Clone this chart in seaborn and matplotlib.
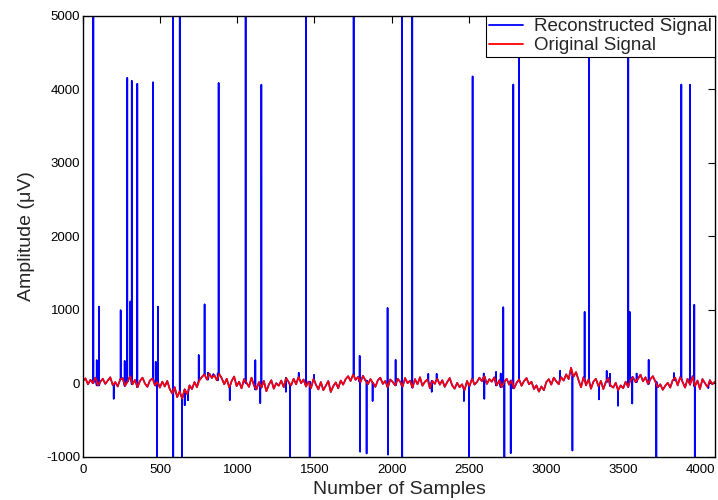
"""
Reconstructed vs original signal: one noisy trace with sparse spike errors
from the reconstruction drawn under the original.
"""

import numpy as np
import pandas as pd
import matplotlib
matplotlib.use("Agg")
import matplotlib.pyplot as plt
import seaborn as sns

sns.set_theme(style="white")
plt.rcParams["font.family"] = ["Liberation Sans", "DejaVu Sans"]
plt.rcParams["axes.unicode_minus"] = False

# original signal, every ~16 samples (uV)
N_SAMPLES = 4096
ORIGINAL = [
    30, 65, -15, 45, 0, 75, -30, 20, 60, -10, 35, 80, -25, 15, -45, 50,
    70, -35, 20, 95, -15, 45, -55, 30, 75, -5, -50, 35, 65, -30, 15, -60,
    20, -45, 30, -80, -140, -55, -190, -110, -210, -85, -150, -30, -80, 15, -55, 40,
    85, 120, 50, 130, 70, 110, 40, 125, 65, -15, 60, -55, 30, 90, -40, 20,
    -70, 55, 5, -50, 75, -30, -85, 15, -60, 30, -110, -20, 40, -75, 0, -35,
    35, -55, 70, 15, -30, 60, -15, 85, 0, 50, -45, 20, -70, 55, -20, -85,
    15, -95, -35, 30, -120, -40, 10, -70, 35, -20, 55, 95, 30, 115, 45, 85,
    15, 100, 35, -15, 55, 5, -50, 40, 75, -10, 30, -55, 50, 15, -30, 60,
    20, -45, 70, 0, 35, -60, 55, -15, 80, -35, 20, 50, -70, 30, -10, 60,
    -20, 40, -50, 15, 70, -30, -75, 5, -55, -15, -95, 30, -40, 60, -20, 15,
    75, 25, 95, -10, 55, 20, 80, -30, 40, -55, 15, 60, -20, 35, -70, 5,
    50, -35, 30, 70, -15, 20, -80, -30, -115, -45, -95, 15, 55, -20, 75, 25,
    -15, 80, 35, 120, 55, 210, 90, 150, 40, -55, 80, -30, 50, -75, 20, 60,
    -40, 30, -80, 15, 70, -35, -60, 5, -95, -30, -70, 20, -50, 40, 80, 15,
    60, 115, 25, 80, -10, 55, 95, 20, -55, -15, -90, -35, 5, -60, 40, 75,
    -30, 80, 15, -60, 60, -20, 95, -40, 35, -80, 55, 0, -50, 40, -15, 20,
]

# single-sample errors in the reconstruction: sample index and amplitude (uV)
SPIKE_AT = [
    67, 89, 104, 199, 244, 270, 287, 307, 316, 352, 454, 471, 480, 486,
    583, 585, 627, 642, 659, 680, 750, 788, 810, 845, 873, 879, 951,
    1054, 1117, 1149, 1156, 1315, 1341, 1398, 1445, 1469, 1497,
    1754, 1793, 1796, 1838, 1877, 1974, 1977, 2026, 2067, 2069, 2134,
    2238, 2260, 2292, 2469, 2502, 2525, 2597, 2601, 2677, 2707, 2724, 2731,
    2772, 2789, 2826, 3092, 3172, 3251, 3279, 3344, 3394, 3415, 3467,
    3534, 3543, 3560, 3588, 3666, 3716, 3830, 3878, 3934, 3962, 3965, 4053,
]
SPIKE_VAL = [
    5600, 310, 1040, -210, 990, 300, 4150, 1110, 4110, 4070, 4090, 290, -1300, 1040,
    5600, -1300, 5600, -1300, -300, -230, 380, 1070, 140, 120, 130, 4080, -230,
    5600, 310, -270, 4060, -115, -1300, 140, 5600, -1300, 110,
    5600, 370, -930, -955, -240, 1020, -970, 315, 5600, -1300, 5600,
    125, -115, 125, -240, -1300, 4170, 130, -215, 150, 130, 1030, -1300,
    -950, 4060, 5600, 165, -915, 968, 5600, -220, 165, 125, -305,
    5600, 968, -275, 130, 316, -1300, 135, 4060, 4060, 1065, -1300, -65,
]

LABEL_REC = "Reconstructed Signal"
LABEL_ORIG = "Original Signal"

sample_grid = np.linspace(0, N_SAMPLES - 1, len(ORIGINAL))
orig = pd.DataFrame({"sample": sample_grid, "amp": ORIGINAL, "signal": LABEL_ORIG})

# reconstruction = original, except it jumps to the spike value at one sample
# and comes straight back (so each spike is a vertical stroke)
rec_x, rec_y = [], []
spikes = sorted(zip(SPIKE_AT, SPIKE_VAL))
k = 0
for i, (gx, gy) in enumerate(zip(sample_grid, ORIGINAL)):
    while k < len(spikes) and spikes[k][0] <= gx:
        s, v = spikes[k]
        base = ORIGINAL[int(np.argmin(np.abs(sample_grid - s)))]
        rec_x += [s, s, s]
        rec_y += [base, v, base]
        k += 1
    rec_x.append(gx)
    rec_y.append(gy)
rec = pd.DataFrame({"sample": rec_x, "amp": rec_y, "signal": LABEL_REC})
df = pd.concat([rec, orig], ignore_index=True)

fig = plt.figure(figsize=(7.18, 5.0), dpi=100)
ax = fig.add_axes([0.1156, 0.0866, 0.8802, 0.8824])

sns.lineplot(data=df, x="sample", y="amp", hue="signal",
             hue_order=[LABEL_REC, LABEL_ORIG],
             palette={LABEL_REC: "#0000ff", LABEL_ORIG: "#ff0000"},
             estimator=None, sort=False, linewidth=1.2, ax=ax)

ax.set_xlim(0, N_SAMPLES)
ax.set_ylim(-1000, 5000)
ax.set_xticks(np.arange(0, 4001, 500))
ax.set_yticks(np.arange(-1000, 5001, 1000))
ax.tick_params(direction="in", length=5, width=0.8, color="black",
               top=True, right=True, labelsize=9.5, labelcolor="black")
ax.tick_params(axis="x", pad=5)
ax.tick_params(axis="y", pad=2)
for s in ax.spines.values():
    s.set_color("black")
    s.set_linewidth(1.0)

ax.set_xlabel("Number of Samples", fontsize=14, labelpad=4)
ax.set_ylabel("Amplitude (\u03bcV)", fontsize=14, labelpad=8)

handles, labels = ax.get_legend_handles_labels()
leg = ax.legend(handles, labels, loc="upper right", fontsize=13.5,
                frameon=True, fancybox=False, framealpha=1, edgecolor="black",
                borderaxespad=0, borderpad=0.15, labelspacing=0.08,
                handlelength=1.8, handletextpad=0.6)
leg.get_frame().set_linewidth(0.8)
for line in leg.get_lines():
    line.set_linewidth(1.3)

fig.savefig("out.png", dpi=100)
